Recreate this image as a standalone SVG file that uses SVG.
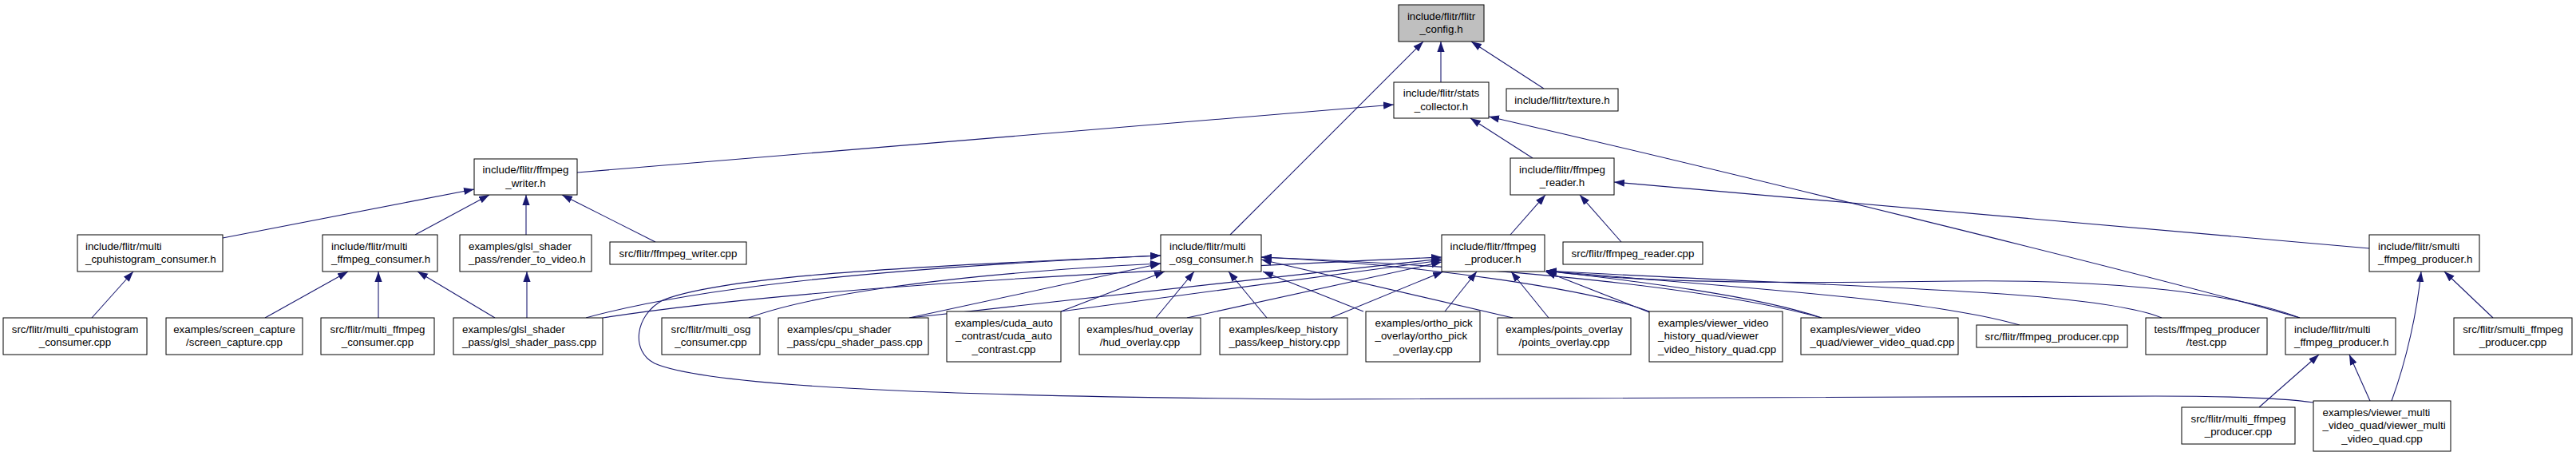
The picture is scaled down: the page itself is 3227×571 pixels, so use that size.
<svg xmlns="http://www.w3.org/2000/svg" width="3227" height="571" viewBox="0 0 3227 571">
<defs>
<marker id="a" viewBox="0 0 13 10" markerWidth="13" markerHeight="10" refX="13" refY="5" orient="auto" markerUnits="userSpaceOnUse"><path d="M0,0.4 L13,5 L0,9.6 z" fill="#191970"/></marker>
<style>
.n rect{fill:#fff;stroke:#000;stroke-width:1}
.n.g rect{fill:#bfbfbf}
text{font-family:"Liberation Sans",Arial,Helvetica,sans-serif;font-size:13.33px;fill:#000}
.m{text-anchor:middle}
.e path{fill:none;stroke:#191970;stroke-width:1.1;marker-end:url(#a)}
</style>
</defs>
<rect width="3227" height="571" fill="#fff"/>
<g class="e">
<path d="M1805,103 L1805,52"/>
<path d="M1934,111 L1843,52"/>
<path d="M1541,294 L1783,52"/>
<path d="M723,216 L1746,131"/>
<path d="M1920,198 L1842,148"/>
<path d="M2881,398 C2700,345 2100,200 1865,146"/>
<path d="M279,298 L594,237"/>
<path d="M520,294 L613,244"/>
<path d="M659,294 L659,244"/>
<path d="M821,303 L704,244"/>
<path d="M115,398 L167,340"/>
<path d="M332,398 L436,340"/>
<path d="M474,398 L474,340"/>
<path d="M620,398 L523,340"/>
<path d="M660,398 L660,340"/>
<path d="M2031,303 L1979,244"/>
<path d="M1892,294 L1936,244"/>
<path d="M2968,311 L2022,228"/>
<path d="M734,398 C850,366 1050,338 1454,320"/>
<path d="M2898,504 C2850,497 2760,496 2700,496 L1640,500 C1300,497 900,490 820,455 C790,440 795,395 830,376 C900,348 1100,335 1454,320"/>
<path d="M938,398 C1000,375 1150,345 1454,330"/>
<path d="M1139,398 L1454,330"/>
<path d="M1329,390 L1459,340"/>
<path d="M1448,398 L1496,340"/>
<path d="M1587,398 L1539,340"/>
<path d="M1708,390 L1582,340"/>
<path d="M1895,398 L1580,325"/>
<path d="M2066,390 C2000,365 1800,332 1580,322"/>
<path d="M2282,398 C2150,362 1900,335 1580,322"/>
<path d="M755,398 C1000,360 1400,340 1806,322"/>
<path d="M1140,398 L1806,324"/>
<path d="M1329,390 L1806,326"/>
<path d="M1487,398 L1806,328"/>
<path d="M1667,398 L1808,340"/>
<path d="M1810,390 L1850,340"/>
<path d="M1940,398 L1893,340"/>
<path d="M2066,391 L1936,340"/>
<path d="M2282,398 C2200,370 2050,352 1937,339"/>
<path d="M2530,407 C2420,375 2200,362 1937,339"/>
<path d="M2708,398 C2620,362 2300,360 1937,339"/>
<path d="M2881,398 C2780,360 2600,350 2450,352 C2250,355 2050,355 1937,339"/>
<path d="M2996,502 C3015,450 3028,390 3033,340"/>
<path d="M3123,398 L3062,340"/>
<path d="M2830,510 L2905,444"/>
<path d="M2969,502 L2943,444"/>
</g>
<g id="n_config" class="n g"><rect x="1752" y="6" width="107" height="46"/><text class="m" x="1805.5" y="24.8">include/flitr/flitr</text><text class="m" x="1805.5" y="41.3">_config.h</text></g>
<g id="n_stats" class="n"><rect x="1746" y="103" width="119" height="45"/><text class="m" x="1805.5" y="121.2">include/flitr/stats</text><text class="m" x="1805.5" y="137.7">_collector.h</text></g>
<g id="n_texture" class="n"><rect x="1887" y="111" width="140" height="28"/><text class="m" x="1957" y="129.5">include/flitr/texture.h</text></g>
<g id="n_writer" class="n"><rect x="594" y="199" width="129" height="45"/><text class="m" x="658.5" y="217.2">include/flitr/ffmpeg</text><text class="m" x="658.5" y="233.7">_writer.h</text></g>
<g id="n_reader" class="n"><rect x="1892" y="198" width="130" height="46"/><text class="m" x="1957" y="216.8">include/flitr/ffmpeg</text><text class="m" x="1957" y="233.3">_reader.h</text></g>
<g id="n_cpuhist_h" class="n"><rect x="97" y="294" width="182" height="46"/><text x="107" y="312.8">include/flitr/multi</text><text x="107" y="329.3">_cpuhistogram_consumer.h</text></g>
<g id="n_mffc_h" class="n"><rect x="404" y="294" width="144" height="46"/><text x="415" y="312.8">include/flitr/multi</text><text x="415" y="329.3">_ffmpeg_consumer.h</text></g>
<g id="n_rtv" class="n"><rect x="576" y="294" width="165" height="46"/><text x="587" y="312.8">examples/glsl_shader</text><text x="587" y="329.3">_pass/render_to_video.h</text></g>
<g id="n_writer_cpp" class="n"><rect x="764" y="303" width="171" height="28"/><text class="m" x="849.5" y="321.5">src/flitr/ffmpeg_writer.cpp</text></g>
<g id="n_osg_h" class="n"><rect x="1454" y="294" width="126" height="46"/><text x="1465" y="312.8">include/flitr/multi</text><text x="1465" y="329.3">_osg_consumer.h</text></g>
<g id="n_producer" class="n"><rect x="1806" y="294" width="129" height="46"/><text class="m" x="1870.5" y="312.8">include/flitr/ffmpeg</text><text class="m" x="1870.5" y="329.3">_producer.h</text></g>
<g id="n_reader_cpp" class="n"><rect x="1958" y="303" width="175" height="28"/><text class="m" x="2045.5" y="321.5">src/flitr/ffmpeg_reader.cpp</text></g>
<g id="n_smulti_h" class="n"><rect x="2968" y="294" width="138" height="46"/><text x="2979" y="312.8">include/flitr/smulti</text><text x="2979" y="329.3">_ffmpeg_producer.h</text></g>
<g id="n_cpuhist_cpp" class="n"><rect x="4" y="398" width="180" height="46"/><text class="m" x="94" y="416.8">src/flitr/multi_cpuhistogram</text><text class="m" x="94" y="433.3">_consumer.cpp</text></g>
<g id="n_screen" class="n"><rect x="208" y="398" width="171" height="46"/><text class="m" x="293.5" y="416.8">examples/screen_capture</text><text class="m" x="293.5" y="433.3">/screen_capture.cpp</text></g>
<g id="n_mffc_cpp" class="n"><rect x="402" y="398" width="142" height="46"/><text class="m" x="473" y="416.8">src/flitr/multi_ffmpeg</text><text class="m" x="473" y="433.3">_consumer.cpp</text></g>
<g id="n_glsl" class="n"><rect x="568" y="398" width="187" height="46"/><text x="579" y="416.8">examples/glsl_shader</text><text x="579" y="433.3">_pass/glsl_shader_pass.cpp</text></g>
<g id="n_osg_cpp" class="n"><rect x="829" y="398" width="123" height="46"/><text class="m" x="890.5" y="416.8">src/flitr/multi_osg</text><text class="m" x="890.5" y="433.3">_consumer.cpp</text></g>
<g id="n_cpu" class="n"><rect x="975" y="398" width="188" height="46"/><text x="986" y="416.8">examples/cpu_shader</text><text x="986" y="433.3">_pass/cpu_shader_pass.cpp</text></g>
<g id="n_cuda" class="n"><rect x="1186" y="390" width="143" height="63"/><text class="m" x="1257.5" y="408.7">examples/cuda_auto</text><text class="m" x="1257.5" y="425.2">_contrast/cuda_auto</text><text class="m" x="1257.5" y="441.7">_contrast.cpp</text></g>
<g id="n_hud" class="n"><rect x="1352" y="398" width="152" height="46"/><text class="m" x="1428" y="416.8">examples/hud_overlay</text><text class="m" x="1428" y="433.3">/hud_overlay.cpp</text></g>
<g id="n_keep" class="n"><rect x="1528" y="398" width="160" height="46"/><text x="1539.5" y="416.8">examples/keep_history</text><text x="1539.5" y="433.3">_pass/keep_history.cpp</text></g>
<g id="n_ortho" class="n"><rect x="1711" y="390" width="143" height="63"/><text x="1722.5" y="408.7">examples/ortho_pick</text><text x="1722.5" y="425.2">_overlay/ortho_pick</text><text class="m" x="1782.5" y="441.7">_overlay.cpp</text></g>
<g id="n_points" class="n"><rect x="1876" y="398" width="167" height="46"/><text class="m" x="1959.5" y="416.8">examples/points_overlay</text><text class="m" x="1959.5" y="433.3">/points_overlay.cpp</text></g>
<g id="n_hist" class="n"><rect x="2066" y="390" width="167" height="63"/><text x="2077" y="408.7">examples/viewer_video</text><text x="2077" y="425.2">_history_quad/viewer</text><text x="2077" y="441.7">_video_history_quad.cpp</text></g>
<g id="n_vquad" class="n"><rect x="2256" y="398" width="197" height="46"/><text x="2267.5" y="416.8">examples/viewer_video</text><text x="2267.5" y="433.3">_quad/viewer_video_quad.cpp</text></g>
<g id="n_prod_cpp" class="n"><rect x="2476" y="407" width="189" height="28"/><text class="m" x="2570.5" y="425.5">src/flitr/ffmpeg_producer.cpp</text></g>
<g id="n_test" class="n"><rect x="2688" y="398" width="152" height="46"/><text x="2698.5" y="416.8">tests/ffmpeg_producer</text><text class="m" x="2764" y="433.3">/test.cpp</text></g>
<g id="n_mfp_h" class="n"><rect x="2863" y="398" width="138" height="46"/><text x="2874" y="416.8">include/flitr/multi</text><text x="2874" y="433.3">_ffmpeg_producer.h</text></g>
<g id="n_smulti_cpp" class="n"><rect x="3074" y="398" width="148" height="46"/><text class="m" x="3148" y="416.8">src/flitr/smulti_ffmpeg</text><text class="m" x="3148" y="433.3">_producer.cpp</text></g>
<g id="n_mfp_cpp" class="n"><rect x="2733" y="510" width="142" height="46"/><text class="m" x="2804" y="528.8">src/flitr/multi_ffmpeg</text><text class="m" x="2804" y="545.3">_producer.cpp</text></g>
<g id="n_vmulti" class="n"><rect x="2898" y="502" width="172" height="63"/><text x="2909.5" y="520.7">examples/viewer_multi</text><text x="2909.5" y="537.2">_video_quad/viewer_multi</text><text class="m" x="2984" y="553.7">_video_quad.cpp</text></g>
</svg>
